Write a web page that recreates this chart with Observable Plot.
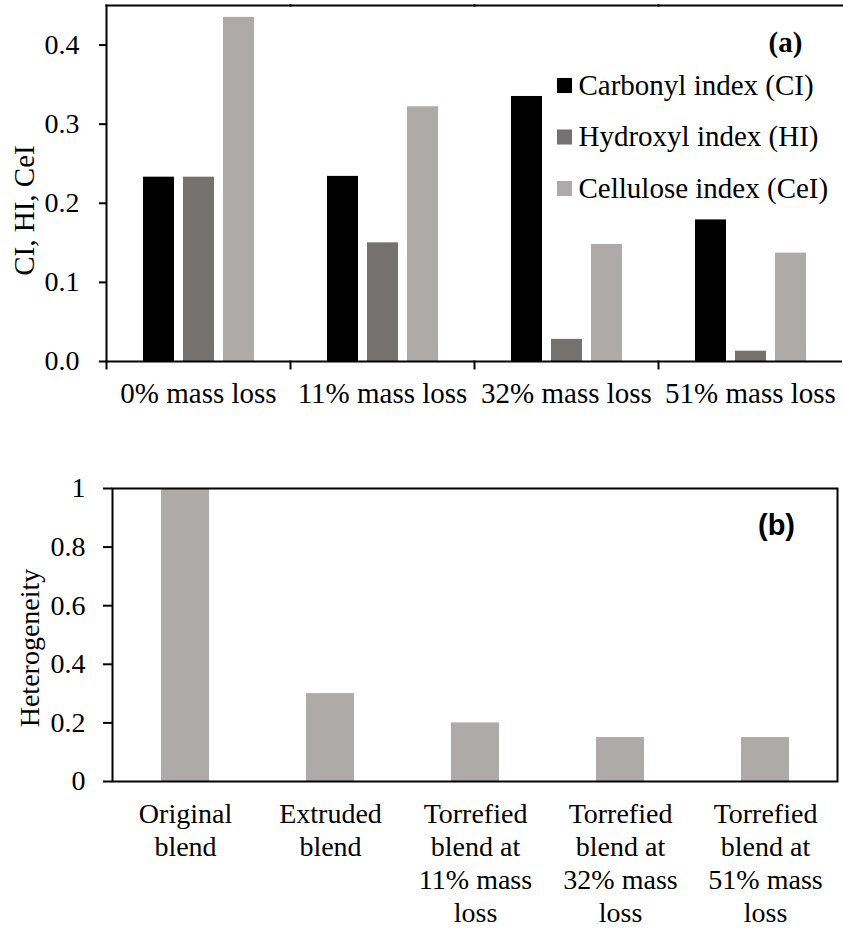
<!DOCTYPE html>
<html>
<head>
<meta charset="utf-8">
<script src="https://cdn.jsdelivr.net/npm/d3@7"></script>
<script src="https://cdn.jsdelivr.net/npm/@observablehq/plot@0.6"></script>
<style>
  html, body { margin: 0; padding: 0; background: #fff; overflow: hidden; }
  #chart svg { display: block; font-family: "Liberation Serif", "Times New Roman", serif; }
</style>
</head>
<body>
<div id="chart"></div>
<script>
// (a) Spectral indices per torrefaction level
const massLoss = ["0% mass loss", "11% mass loss", "32% mass loss", "51% mass loss"];
const indexSeries = ["Carbonyl index (CI)", "Hydroxyl index (HI)", "Cellulose index (CeI)"];
const carbonyl = [0.233, 0.234, 0.335, 0.179];
const hydroxyl = [0.233, 0.150, 0.028, 0.013];
const cellulose = [0.435, 0.322, 0.148, 0.137];
const indexTicks = [0, 0.1, 0.2, 0.3, 0.4];

// (b) Heterogeneity per sample
const samples = [
  "Original blend",
  "Extruded blend",
  "Torrefied blend at 11% mass loss",
  "Torrefied blend at 32% mass loss",
  "Torrefied blend at 51% mass loss"
];
const sampleLabels = [
  "Original\nblend",
  "Extruded\nblend",
  "Torrefied\nblend at\n11% mass\nloss",
  "Torrefied\nblend at\n32% mass\nloss",
  "Torrefied\nblend at\n51% mass\nloss"
];
const heterogeneity = [1.0, 0.30, 0.20, 0.15, 0.15];
const heteroTicks = [0, 0.2, 0.4, 0.6, 0.8, 1];

const seriesValues = [carbonyl, hydroxyl, cellulose];
const seriesColors = ["#000000", "#767171", "#aeaaaa"];
const tableA = massLoss.flatMap((loss, i) =>
  indexSeries.map((series, j) => ({loss, series, value: seriesValues[j][i]}))
);
const tableB = samples.map((sample, i) => ({sample, value: heterogeneity[i]}));

const serif = "'Liberation Serif', 'Times New Roman', serif";
const sans = "'Liberation Sans', Arial, sans-serif";
const W = 843;

// ---- panel (a) ----
const A = {height: 415, top: 5, bottom: 54, left: 104, right: 0};
const innerA = A.height - A.top - A.bottom;

const legendMarks = indexSeries.flatMap((s, i) => [
  Plot.dot([s], {
    frameAnchor: "top-right", dx: -278, dy: 80 + i * 51.5,
    symbol: "square", r: 8.5, fill: d => d, stroke: null, facetAnchor: "right"
  }),
  Plot.text([s], {
    text: d => d, frameAnchor: "top-right", dx: -264, dy: 80 + i * 51.5,
    textAnchor: "start", lineAnchor: "middle", fontFamily: serif, fontSize: 29,
    fill: "#000", facetAnchor: "right"
  })
]);

const chartA = Plot.plot({
  width: W,
  height: A.height,
  marginTop: A.top,
  marginBottom: A.bottom,
  marginLeft: A.left,
  marginRight: A.right,
  style: {fontFamily: serif, fontSize: "28px", color: "#000", background: "#fff"},
  fx: {domain: massLoss, padding: 0, label: null},
  x: {domain: indexSeries, paddingInner: 0.23, paddingOuter: 0.88, axis: null},
  y: {domain: [0, 0.45], label: null},
  color: {domain: indexSeries, range: seriesColors},
  marks: [
    Plot.barY(tableA, {fx: "loss", x: "series", y: "value", fill: "series", inset: 0}),
    Plot.frame({anchor: "top", stroke: "#000", strokeWidth: 2}),
    Plot.ruleY([0], {stroke: "#000", strokeWidth: 2}),
    Plot.frame({anchor: "left", stroke: "#000", strokeWidth: 2, facetAnchor: "left"}),
    // tick marks between categories
    Plot.frame({anchor: "left", insetTop: innerA, insetBottom: -7, stroke: "#000", strokeWidth: 2}),
    Plot.axisY({ticks: indexTicks, tickFormat: d3.format(".1f"), tickSize: 7, tickPadding: 20,
                strokeWidth: 2, label: null, fontFamily: serif, fontSize: 28}),
    Plot.axisFx({anchor: "bottom", tickSize: 0, tickPadding: 21, label: null,
                 fontFamily: serif, fontSize: 29}),
    Plot.text(["CI, HI, CeI"], {text: d => d, frameAnchor: "left", rotate: -90, dx: -82, dy: 27,
                                textAnchor: "middle", lineAnchor: "middle",
                                fontFamily: serif, fontSize: 29, fill: "#000", facetAnchor: "left"}),
    Plot.text(["(a)"], {text: d => d, frameAnchor: "top-right", dx: -57, dy: 37,
                        textAnchor: "middle", lineAnchor: "middle",
                        fontFamily: serif, fontWeight: "bold", fontSize: 29, fill: "#000",
                        facetAnchor: "right"}),
    ...legendMarks
  ]
});

// ---- panel (b) ----
const B = {height: 515, top: 73, bottom: 149, left: 112, right: 6};

const chartB = Plot.plot({
  width: W,
  height: B.height,
  marginTop: B.top,
  marginBottom: B.bottom,
  marginLeft: B.left,
  marginRight: B.right,
  style: {fontFamily: serif, fontSize: "28px", color: "#000", background: "#fff"},
  x: {domain: samples, paddingInner: 0.67, paddingOuter: 0.335},
  y: {domain: [0, 1], label: null},
  marks: [
    Plot.barY(tableB, {x: "sample", y: "value", fill: "#aeaaaa", inset: 0}),
    Plot.frame({stroke: "#000", strokeWidth: 2}),
    Plot.axisY({ticks: heteroTicks, tickFormat: d3.format("~g"), tickSize: 9, tickPadding: 18,
                strokeWidth: 2, label: null, fontFamily: serif, fontSize: 28}),
    Plot.axisX({tickSize: 0, tickPadding: 18, label: null, fontFamily: serif, fontSize: 28,
                lineHeight: 1.18, tickFormat: d => sampleLabels[samples.indexOf(d)]}),
    Plot.text(["Heterogeneity"], {text: d => d, frameAnchor: "left", rotate: -90, dx: -82, dy: 13,
                                  textAnchor: "middle", lineAnchor: "middle",
                                  fontFamily: serif, fontSize: 28, fill: "#000"}),
    Plot.text(["(b)"], {text: d => d, frameAnchor: "top-right", dx: -61, dy: 37,
                        textAnchor: "middle", lineAnchor: "middle",
                        fontFamily: sans, fontWeight: "bold", fontSize: 29, fill: "#000"})
  ]
});

const root = document.getElementById("chart");
root.append(chartA, chartB);
</script>
</body>
</html>
